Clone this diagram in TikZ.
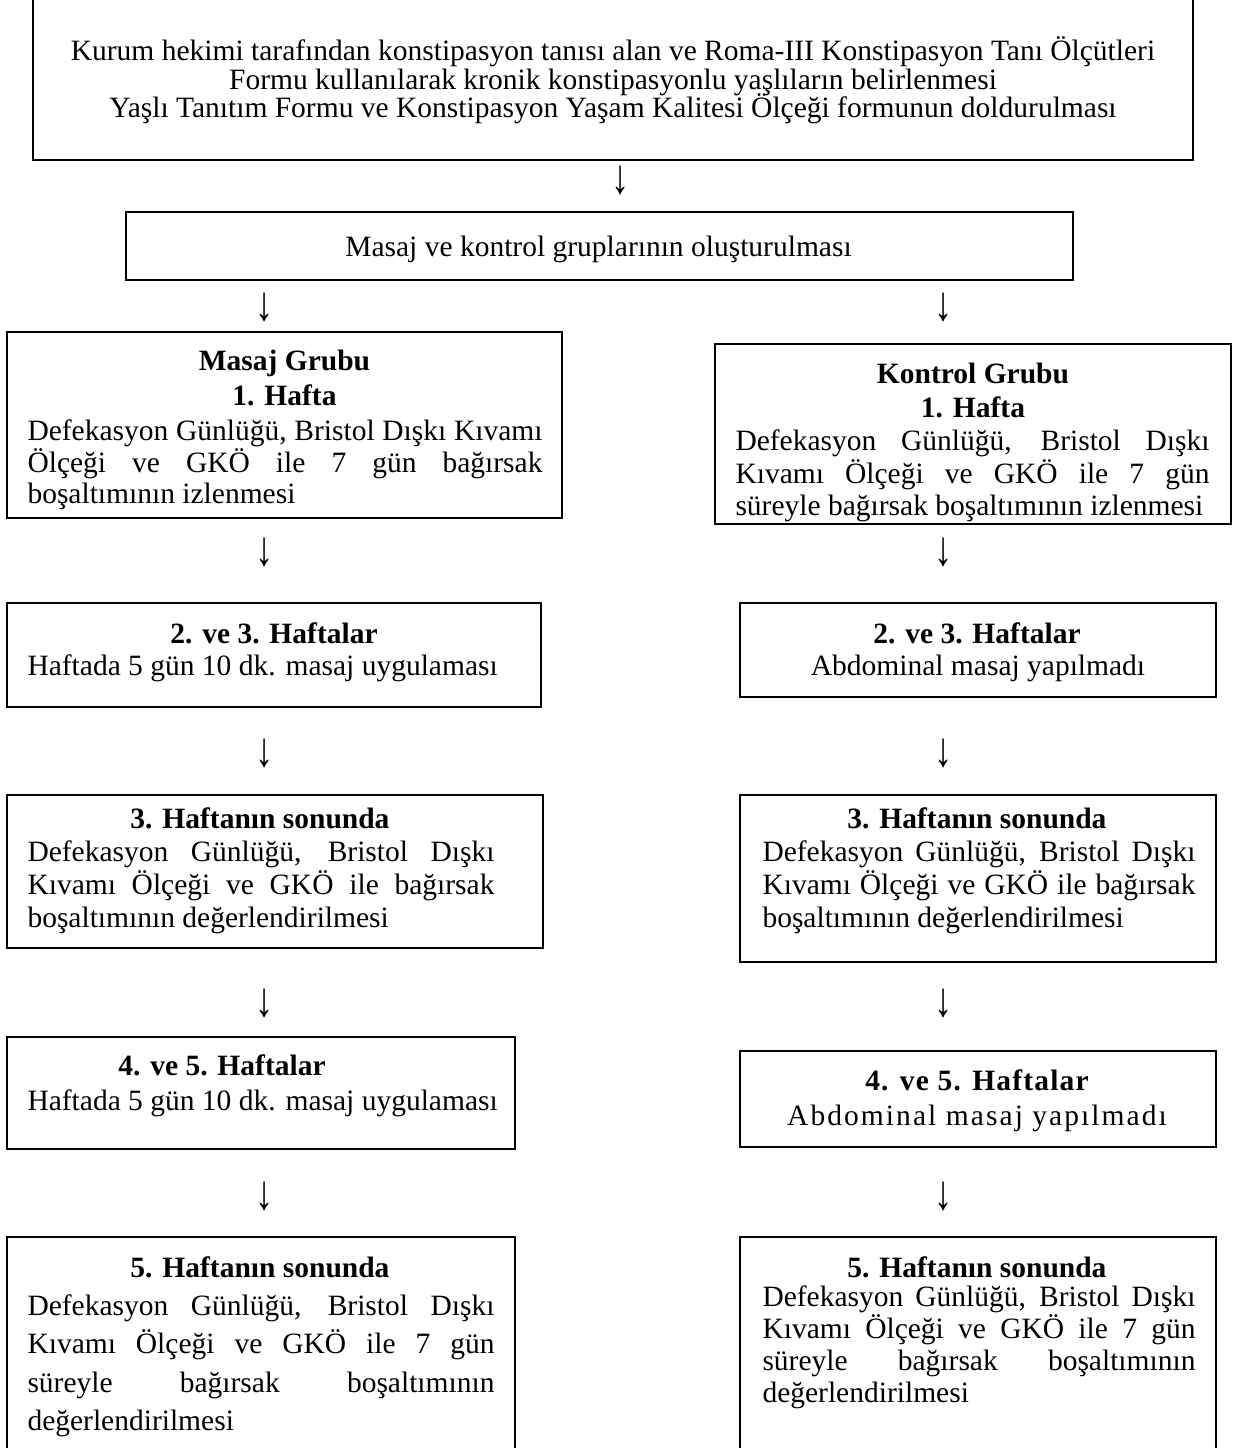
\documentclass[tikz,border=0pt]{standalone}
\usepackage{graphicx}
\usepackage{fontspec}
\setmainfont{Liberation Serif}
\usetikzlibrary{fit}

\newcommand{\fstrut}{\noindent\rule{0pt}{11pt}}
\newcommand{\darr}{\scalebox{1}[1.35]{↓}}

\tikzset{
  box/.style={draw, line width=0.8pt, inner sep=0pt},
  txt/.style={inner sep=0pt, align=center, font={\fontsize{11.8}{#1}\selectfont\lineskiplimit=-20pt}},
  txt/.default=13.2pt,
  head/.style={inner sep=0pt, anchor=north, align=center, font={\fontsize{11.8}{#1}\selectfont\bfseries\lineskiplimit=-20pt}},
  head/.default=13.2pt,
  body/.style={inner sep=0pt, anchor=north west, align=justify, font={\fontsize{11.8}{#1}\selectfont\lineskiplimit=-20pt}},
  body/.default=13.2pt,
  down/.style={inner sep=0pt, font={\fontsize{14.5}{14.5}\selectfont}},
}

\begin{document}
\begin{tikzpicture}[x=0.4pt,y=0.4pt,yscale=-1,xscale=1]
\useasboundingbox (0,0) rectangle (1241,1448);

%Shape: Rectangle
\node[box, fit={(33,-5) (1193,160)}] (form) {};
%Shape: Rectangle
\node[box, fit={(126,212) (1073,280)}] (groups) {};
%Shape: Rectangle
\node[box, fit={(7,332) (562,518)}] (masaj) {};
%Shape: Rectangle
\node[box, fit={(715,344) (1231,524)}] (kontrol) {};
%Shape: Rectangle
\node[box, fit={(7,603) (541,707)}] (masajB) {};
%Shape: Rectangle
\node[box, fit={(740,603) (1216,697)}] (kontrolB) {};
%Shape: Rectangle
\node[box, fit={(7,795) (543,948)}] (masajC) {};
%Shape: Rectangle
\node[box, fit={(740,795) (1216,962)}] (kontrolC) {};
%Shape: Rectangle
\node[box, fit={(7,1037) (515,1149)}] (masajD) {};
%Shape: Rectangle
\node[box, fit={(740,1051) (1216,1147)}] (kontrolD) {};
%Shape: Rectangle
\node[box, fit={(7,1237) (515,1455)}] (masajE) {};
%Shape: Rectangle
\node[box, fit={(740,1237) (1216,1455)}] (kontrolE) {};

% Arrows
\node[down] (arr0) at (621,180) {\darr};
\node[down] (arrL1) at (265,307) {\darr};
\node[down] (arrR1) at (944,307) {\darr};
\node[down] (arrL2) at (265,552) {\darr};
\node[down] (arrR2) at (944,552) {\darr};
\node[down] (arrL3) at (265,753) {\darr};
\node[down] (arrR3) at (944,753) {\darr};
\node[down] (arrL4) at (265,1003) {\darr};
\node[down] (arrR4) at (944,1003) {\darr};
\node[down] (arrL5) at (265,1196) {\darr};
\node[down] (arrR5) at (944,1196) {\darr};

% Text Node
\node[txt=11.4pt, anchor=north] (formtext) at (613,32.5) {\fstrut Kurum hekimi tarafından konstipasyon tanısı alan ve Roma-III Konstipasyon Tanı Ölçütleri\\Formu kullanılarak kronik konstipasyonlu yaşlıların belirlenmesi\\Yaşlı Tanıtım Formu ve Konstipasyon Yaşam Kalitesi Ölçeği formunun doldurulması};
% Text Node
\node[txt, anchor=north] (groupstext) at (598.5,228.5) {\fstrut Masaj ve kontrol gruplarının oluşturulması};

% Text Node
\node[head=14pt] (masajhead) at (284.5,342.5) {\fstrut Masaj Grubu\\1. Hafta};
\node[body=12.6pt, text width=206pt] (masajtext) at (27,412.5) {\fstrut Defekasyon Günlüğü, Bristol Dışkı Kıvamı\linebreak Ölçeği ve GKÖ ile 7 gün bağırsak\linebreak boşaltımının izlenmesi};
% Text Node
\node[head=13.6pt] (kontrolhead) at (973,355.5) {\fstrut Kontrol Grubu\\1. Hafta};
\node[body=13pt, text width=189.6pt] (kontroltext) at (735,422.5) {\fstrut Defekasyon Günlüğü, Bristol Dışkı\linebreak Kıvamı Ölçeği ve GKÖ ile 7 gün\linebreak süreyle bağırsak boşaltımının izlenmesi};

% Text Node
\node[head] (masajBhead) at (274,615.5) {\fstrut 2. ve 3. Haftalar};
\node[txt, anchor=north west] (masajBtext) at (27,647.5) {\fstrut Haftada 5 gün 10 dk. masaj uygulaması};
% Text Node
\node[head] (kontrolBhead) at (977,615.5) {\fstrut 2. ve 3. Haftalar};
\node[txt, anchor=north] (kontrolBtext) at (978,647.5) {\fstrut Abdominal masaj yapılmadı};

% Text Node
\node[head] (masajChead) at (260,800.5) {\fstrut 3. Haftanın sonunda};
\node[body, text width=186.8pt] (masajCtext) at (27,833.5) {\fstrut Defekasyon Günlüğü, Bristol Dışkı\linebreak Kıvamı Ölçeği ve GKÖ ile bağırsak\linebreak boşaltımının değerlendirilmesi};
% Text Node
\node[head] (kontrolChead) at (977,800.5) {\fstrut 3. Haftanın sonunda};
\node[body, text width=173.2pt] (kontrolCtext) at (762,833.5) {\fstrut Defekasyon Günlüğü, Bristol Dışkı\linebreak Kıvamı Ölçeği ve GKÖ ile bağırsak\linebreak boşaltımının değerlendirilmesi};

% Text Node
\node[head] (masajDhead) at (222,1047.5) {\fstrut 4. ve 5. Haftalar};
\node[txt, anchor=north west] (masajDtext) at (27,1082.5) {\fstrut Haftada 5 gün 10 dk. masaj uygulaması};
% Text Node
\node[head] (kontrolDhead) at (977,1062.5) {\addfontfeature{LetterSpace=4}\fstrut 4. ve 5. Haftalar};
\node[txt, anchor=north] (kontrolDtext) at (977,1097.5) {\addfontfeature{LetterSpace=7}\fstrut Abdominal masaj yapılmadı};

% Text Node
\node[head] (masajEhead) at (260,1249.5) {\fstrut 5. Haftanın sonunda};
\node[body=15.3pt, text width=186.8pt] (masajEtext) at (27,1287.5) {\fstrut Defekasyon Günlüğü, Bristol Dışkı\linebreak Kıvamı Ölçeği ve GKÖ ile 7 gün\linebreak süreyle bağırsak boşaltımının\linebreak değerlendirilmesi};
% Text Node
\node[head] (kontrolEhead) at (977,1249.5) {\fstrut 5. Haftanın sonunda};
\node[body=12.8pt, text width=173.2pt] (kontrolEtext) at (762,1278.5) {\fstrut Defekasyon Günlüğü, Bristol Dışkı\linebreak Kıvamı Ölçeği ve GKÖ ile 7 gün\linebreak süreyle bağırsak boşaltımının\linebreak değerlendirilmesi};

\end{tikzpicture}
\end{document}
